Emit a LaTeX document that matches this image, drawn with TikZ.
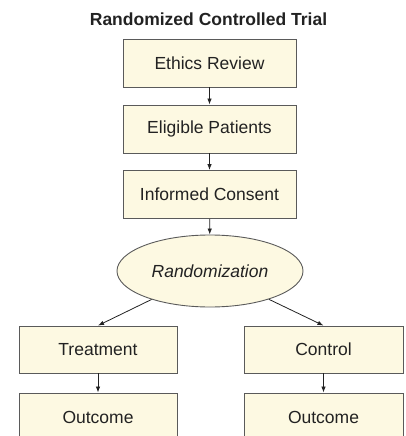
\documentclass[tikz,border=0pt]{standalone}
\usepackage{fontspec}
\setmainfont{Liberation Sans}
\usetikzlibrary{shapes.geometric,arrows.meta}
\definecolor{boxfill}{HTML}{FDF9E2}
\definecolor{boxline}{HTML}{5A5A5A}
\definecolor{inktext}{HTML}{222222}
\tikzset{
    stepbox/.style={draw=boxline, fill=boxfill, line width=0.9pt, text=inktext,
        minimum width=173pt, minimum height=48pt, inner sep=0pt,
        font=\fontsize{17.5}{20}\selectfont},
    armbox/.style={stepbox, minimum width=158pt, minimum height=47pt},
    flow/.style={draw=inktext, line width=0.8pt, -{Latex[length=6pt,width=4.5pt]}}
}
\begin{document}
\begin{tikzpicture}[x=1pt,y=-1pt]
    \useasboundingbox (0,0) rectangle (406,436);
    \clip (0,0) rectangle (406,436);
    % title
    \node[text=inktext, font=\fontsize{17.5}{20}\selectfont\bfseries] (title) at (208.5,19) {Randomized Controlled Trial};
    % main column
    \node[stepbox] (ethics) at (209.5,63) {Ethics Review};
    \node[stepbox] (eligible) at (209.5,129) {Eligible Patients};
    \node[stepbox] (consent) at (209.5,194.5) {Informed Consent};
    \node[ellipse, draw=boxline, fill=boxfill, line width=0.9pt, text=inktext,
        minimum width=186pt, minimum height=72pt, inner sep=0pt,
        font=\fontsize{17.5}{20}\selectfont\itshape] (rand) at (210,271) {Randomization};
    % two arms
    \node[armbox] (treat) at (98,349.5) {Treatment};
    \node[armbox, minimum width=159pt] (control) at (323.5,349.5) {Control};
    \node[armbox, minimum height=48pt] (outT) at (98,417) {Outcome};
    \node[armbox, minimum width=159pt, minimum height=48pt] (outC) at (323.5,417) {Outcome};
    % connectors
    \draw[flow] (ethics) -- (eligible);
    \draw[flow] (eligible) -- (consent);
    \draw[flow] (consent) -- (rand);
    \draw[flow] (rand) -- (treat.north);
    \draw[flow] (rand) -- (control.north);
    \draw[flow] (treat) -- (outT);
    \draw[flow] (control) -- (outC);
\end{tikzpicture}
\end{document}
